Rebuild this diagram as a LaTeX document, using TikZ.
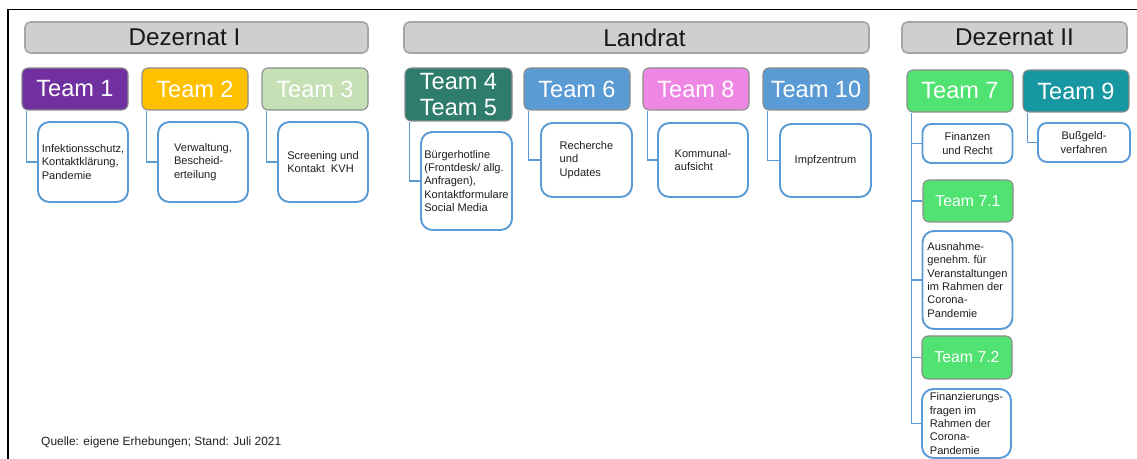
\documentclass[tikz,border=0pt]{standalone}
\usepackage{fontspec}
\setmainfont{Liberation Sans}
\usepackage{xcolor}
\usepackage{tikz}
\usetikzlibrary{positioning,calc}

\definecolor{barfill}{HTML}{D0CECE}
\definecolor{barline}{HTML}{A5A5A5}
\definecolor{teamline}{HTML}{8C8C8C}
\definecolor{linkblue}{HTML}{5B9BD5}
\definecolor{tasktext}{HTML}{1F1F1F}
\definecolor{cPurple}{HTML}{7030A0}
\definecolor{cGold}{HTML}{FFC000}
\definecolor{cSage}{HTML}{C5E0B4}
\definecolor{cPine}{HTML}{2E7D6C}
\definecolor{cBlue}{HTML}{5B9BD5}
\definecolor{cOrchid}{HTML}{EE86E3}
\definecolor{cLime}{HTML}{50E371}
\definecolor{cTeal}{HTML}{1797A2}

\begin{document}
\begin{tikzpicture}[
  x=1cm,y=1cm,
  frame/.style={line width=1pt},
  head/.style={draw=barline,fill=barfill,line width=0.9pt,rounded corners=3pt,
               minimum width=#1,minimum height=0.62cm,inner sep=0pt,
               text=black!90,font=\fontsize{13.8}{16}\selectfont},
  team/.style={draw=teamline,fill=#1,line width=0.6pt,rounded corners=3.5pt,
               minimum width=2.12cm,minimum height=0.84cm,inner sep=0pt,
               text=white,font=\fontsize{13.4}{15.3}\selectfont},
  subteam/.style={team=#1,minimum width=1.80cm,
                  font=\fontsize{9}{11}\selectfont},
  task/.style={draw=linkblue,fill=white,line width=1.1pt,rounded corners=6.5pt,
               minimum width=1.80cm,inner sep=0pt,align=left,
               text=tasktext,font=\fontsize{6.3}{7.6}\selectfont},
  link/.style={draw=linkblue,line width=0.8pt}
]
\useasboundingbox (0,0) rectangle (22.74,9.18);
\draw[frame] (0.16,0) -- (0.16,8.99) -- (22.74,8.99);

% Leitungsebenen
\node[head=6.86cm] (dez1) at (3.93,8.43) {\hspace*{-0.48cm}Dezernat I};
\node[head=9.30cm] (landrat) at (12.73,8.43) {\hspace*{0.32cm}Landrat};
\node[head=4.50cm] (dez2) at (20.29,8.43) {Dezernat II};

% Dezernat I
\node[team=cPurple] (t1) at (1.50,7.40) {Team 1};
\node[team=cGold] (t2) at (3.90,7.40) {Team 2};
\node[team=cSage] (t3) at (6.30,7.40) {Team 3};
\node[task,minimum height=1.60cm] (d1) at (1.66,5.94)
  {Infektionsschutz,\\Kontaktklärung,\\Pandemie};
\node[task,minimum height=1.60cm] (d2) at (4.06,5.94)
  {Verwaltung,\\Bescheid-\\erteilung};
\node[task,minimum height=1.60cm] (d3) at (6.46,5.94)
  {Screening und\\Kontakt\ \ KVH};
\draw[link] ([xshift=0.1cm]t1.south west) |- (d1.west);
\draw[link] ([xshift=0.1cm]t2.south west) |- (d2.west);
\draw[link] ([xshift=0.1cm]t3.south west) |- (d3.west);

% Landrat
\node[team=cPine,minimum width=2.14cm,minimum height=1.06cm,align=center]
  (t45) at (9.17,7.29) {Team 4\\Team 5};
\node[team=cBlue] (t6) at (11.54,7.40) {Team 6};
\node[team=cOrchid] (t8) at (13.92,7.40) {Team 8};
\node[team=cBlue] (t10) at (16.32,7.40) {Team 10};
\node[task,minimum width=1.82cm,minimum height=1.96cm] (d45) at (9.33,5.56)
  {Bürgerhotline\\(Frontdesk/ allg.\\Anfragen),\\Kontaktformulare\\Social Media};
\node[task,minimum width=1.82cm,minimum height=1.48cm] (d6) at (11.73,5.98)
  {Recherche\\und\\Updates};
\node[task,minimum height=1.48cm] (d8) at (14.06,5.98)
  {Kommunal-\\aufsicht};
\node[task,minimum width=1.82cm,minimum height=1.46cm] (d10) at (16.51,5.97)
  {Impfzentrum};
\draw[link] ([xshift=0.1cm]t45.south west) |- (d45.west);
\draw[link] ([xshift=0.1cm]t6.south west) |- (d6.west);
\draw[link] ([xshift=0.1cm]t8.south west) |- (d8.west);
\draw[link] ([xshift=0.1cm]t10.south west) |- (d10.west);

% Dezernat II
\node[team=cLime] (t7) at (19.20,7.36) {Team 7};
\node[team=cTeal] (t9) at (21.52,7.36) {Team 9};
\node[task,align=center,rounded corners=5pt,minimum height=0.78cm]
  (d7) at (19.35,6.31) {Finanzen\\und Recht};
\node[task,align=center,rounded corners=5pt,minimum width=1.84cm,
  minimum height=0.78cm] (d9) at (21.68,6.33) {Bußgeld-\\verfahren};
\node[subteam=cLime] (t71) at (19.36,5.16) {Team 7.1};
\node[task,minimum height=1.96cm] (d71) at (19.35,3.58)
  {Ausnahme-\\genehm.\ für\\Veranstaltungen\\im Rahmen\ der\\Corona-\\Pandemie};
\node[subteam=cLime,minimum height=0.86cm] (t72) at (19.34,2.03) {Team 7.2};
\node[task,minimum width=1.78cm,minimum height=1.38cm] (d72) at (19.33,0.71)
  {Finanzierungs-\\fragen im\\Rahmen\ der\\Corona-\\Pandemie};
\coordinate (t7bus) at ([xshift=0.1cm]t7.south west);
\draw[link] (t7bus) |- (d72.west);
\foreach \n in {d7,t71,d71,t72}
  \draw[link] (t7bus |- \n.west) -- (\n.west);
\draw[link] ([xshift=0.1cm]t9.south west) |- (d9.west);

% Quelle
\node[anchor=west,text=tasktext,font=\fontsize{6.8}{8}\selectfont] (quelle)
  at (0.70,0.34) {Quelle: eigene Erhebungen; Stand: Juli 2021};
\end{tikzpicture}
\end{document}
